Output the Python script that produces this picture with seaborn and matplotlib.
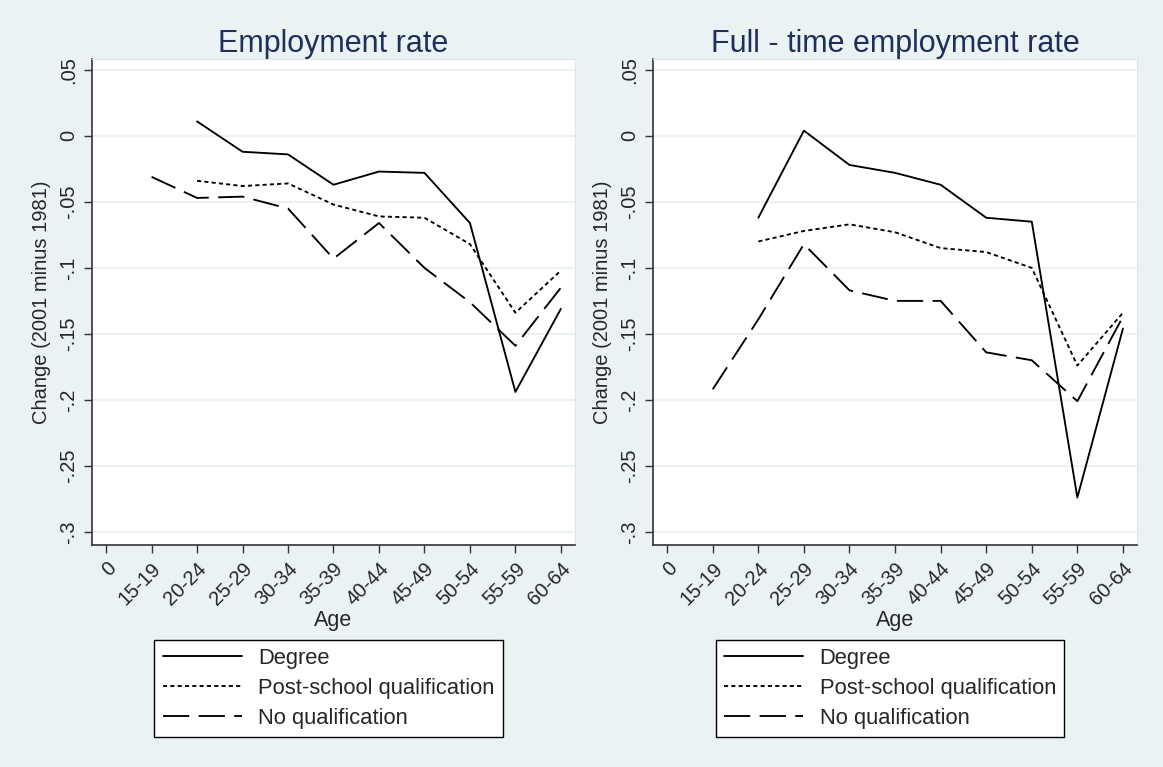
import numpy as np
import pandas as pd
import matplotlib
matplotlib.use('Agg')
import matplotlib.pyplot as plt
import seaborn as sns

# data (change 2001 minus 1981)
age_groups = ['0', '15-19', '20-24', '25-29', '30-34', '35-39',
              '40-44', '45-49', '50-54', '55-59', '60-64']

emp_degree = [np.nan, np.nan, 0.011, -0.012, -0.014, -0.037, -0.027, -0.028, -0.066, -0.194, -0.131]
emp_post   = [np.nan, np.nan, -0.034, -0.038, -0.036, -0.052, -0.061, -0.062, -0.082, -0.134, -0.102]
emp_noqual = [np.nan, -0.031, -0.047, -0.046, -0.055, -0.093, -0.066, -0.100, -0.126, -0.159, -0.115]

ft_degree = [np.nan, np.nan, -0.062, 0.004, -0.022, -0.028, -0.037, -0.062, -0.065, -0.274, -0.146]
ft_post   = [np.nan, np.nan, -0.080, -0.072, -0.067, -0.073, -0.085, -0.088, -0.100, -0.174, -0.134]
ft_noqual = [np.nan, -0.192, -0.139, -0.082, -0.117, -0.125, -0.125, -0.164, -0.170, -0.201, -0.137]

groups = ['Degree', 'Post-school qualification', 'No qualification']
titles = ['Employment rate', 'Full - time employment rate']

y_ticks = [0.05, 0, -0.05, -0.1, -0.15, -0.2, -0.25, -0.3]
y_ticklabels = ['.05', '0', '-.05', '-.1', '-.15', '-.2', '-.25', '-.3']


def to_long(deg, post, noq):
    rows = []
    for name, vals in zip(groups, [deg, post, noq]):
        for i, v in enumerate(vals):
            rows.append({'pos': i, 'value': v, 'group': name})
    return pd.DataFrame(rows).dropna()


panels = [to_long(emp_degree, emp_post, emp_noqual),
          to_long(ft_degree, ft_post, ft_noqual)]

bg = '#EAF2F3'
sns.set_theme(style='white')
plt.rcParams['font.family'] = ['Liberation Sans', 'DejaVu Sans']

fig = plt.figure(figsize=(11.63, 7.67), dpi=100, facecolor=bg)
ax_pos = [[0.0791, 0.2894, 0.4153, 0.6337],
          [0.5615, 0.2894, 0.4162, 0.6337]]

dash_map = {'Degree': '',
            'Post-school qualification': (2.2, 1.7),
            'No qualification': (14, 5)}

for k in range(2):
    ax = fig.add_axes(ax_pos[k])
    ax.set_facecolor('white')
    sns.lineplot(data=panels[k], x='pos', y='value', style='group',
                 style_order=groups, dashes=dash_map, color='black',
                 linewidth=1.35, ax=ax)

    ax.set_xlim(-0.31, 10.31)
    ax.set_ylim(-0.31, 0.0583)
    ax.set_xticks(range(len(age_groups)))
    ax.set_xticklabels(age_groups, rotation=45, ha='right',
                       rotation_mode='anchor', fontsize=14.5)
    ax.set_yticks(y_ticks)
    ax.set_yticklabels(y_ticklabels, rotation=90, va='center', fontsize=14.5)
    ax.tick_params(axis='both', direction='out', length=6, width=1,
                   color='#333333', bottom=True, left=True, pad=4)

    ax.grid(axis='y', color=bg, linewidth=1.5)
    ax.grid(axis='x', visible=False)
    ax.set_axisbelow(True)
    for s in ['top', 'right']:
        ax.spines[s].set_color('#dde6e8')
        ax.spines[s].set_linewidth(0.8)
    for s in ['left', 'bottom']:
        ax.spines[s].set_color('#333333')
        ax.spines[s].set_linewidth(1.2)

    ax.set_title(titles[k], fontsize=22, color='#1F2F5A', pad=5)
    ax.set_xlabel('Age', fontsize=15.5, labelpad=1)
    ax.set_ylabel('Change (2001 minus 1981)', fontsize=14.5, labelpad=6)

    handles, labels = ax.get_legend_handles_labels()
    ax.legend(handles, labels, loc='upper center', bbox_to_anchor=(0.49, -0.195),
              frameon=True, fancybox=False, edgecolor='black', facecolor='white',
              framealpha=1, fontsize=15.8, handlelength=3.6, handletextpad=0.75,
              labelspacing=0.4, borderpad=0.38, borderaxespad=0)
    ax.get_legend().get_frame().set_linewidth(1.0)

fig.savefig('out.png', dpi=100, facecolor=bg)
